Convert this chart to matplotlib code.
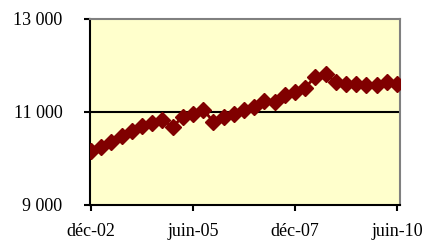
import matplotlib.pyplot as plt

# quarterly values, déc-02 to juin-10
values = [10150, 10250, 10350, 10480, 10600, 10700, 10760, 10830, 10680, 10900,
          10960, 11050, 10790, 10900, 10960, 11050, 11110, 11240, 11220, 11370,
          11430, 11520, 11760, 11810, 11650, 11610, 11610, 11590, 11590, 11640,
          11610]
tick_pos = [0, 10, 20, 30]
tick_labels = ["déc-02", "juin-05", "déc-07", "juin-10"]
y_ticks = [9000, 11000, 13000]
y_labels = ["9 000", "11 000", "13 000"]

plt.rcParams['font.family'] = ['Liberation Serif', 'DejaVu Serif']

fig = plt.figure(figsize=(4.31, 2.40), dpi=100)
ax = fig.add_axes([0.209, 0.146, 0.719, 0.775])
ax.set_facecolor('#FFFFCC')

x = list(range(len(values)))
ax.plot(x, values, color='#800000', lw=2, marker='D', markersize=8.5,
        markerfacecolor='#800000', markeredgecolor='#800000', zorder=3)
ax.axhline(11000, color='black', lw=1.5, zorder=2)

ax.set_xlim(-0.1, 30.3)
ax.set_ylim(9000, 13000)
ax.set_xticks(tick_pos)
ax.set_xticklabels(tick_labels, fontsize=13)
ax.set_yticks(y_ticks)
ax.set_yticklabels(y_labels, fontsize=13)
ax.tick_params(axis='y', direction='out', length=4, width=1.5, pad=16)
ax.tick_params(axis='x', direction='out', length=4, width=1.5, pad=9)

for s in ['top', 'right']:
    ax.spines[s].set_color('#808080')
    ax.spines[s].set_linewidth(1.5)
for s in ['left', 'bottom']:
    ax.spines[s].set_color('black')
    ax.spines[s].set_linewidth(1.5)

fig.savefig('out.png', dpi=100)
